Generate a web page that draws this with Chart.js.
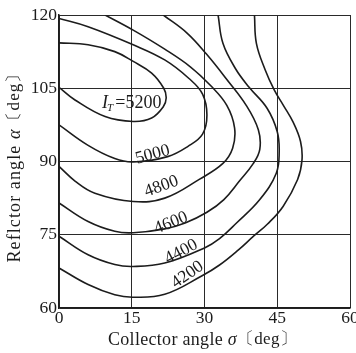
<!DOCTYPE html>
<html><head><meta charset="utf-8">
<script src="https://cdn.jsdelivr.net/npm/chart.js@4/dist/chart.umd.min.js"></script>
<style>html,body{margin:0;padding:0;background:#fff}</style>
</head><body>
<canvas id="c" width="356" height="353"></canvas>
<script>
// ---- data ----
const xTicks = [0, 15, 30, 45, 60];
const yTicks = [60, 75, 90, 105, 120];
const levels = [5200, 5000, 4800, 4600, 4400, 4200];

const sigma5200 = [0, 6.0, 11.5, 15.3, 19.1, 21.6, 22.1, 21.5, 19.1, 15.3, 9.5, 3.3, 0];
const alpha5200 = [114.3, 113.9, 112.5, 110.5, 108.1, 105.0, 103.0, 101.2, 98.9, 98.2, 99.2, 102.6, 105.2];

const sigma5000 = [0, 6.0, 15.3, 21.8, 26.8, 29.6, 30.5, 29.6, 26.6, 22.4, 15.3, 11.5, 6.0, 0];
const alpha5000 = [119.3, 117.6, 113.9, 110.8, 107.0, 103.8, 99.5, 95.6, 93.1, 91.0, 89.9, 90.6, 93.3, 97.5];

const sigma4800 = [9.5, 15.3, 21.8, 27.2, 31.3, 34.6, 36.2, 35.8, 33.8, 29.0, 21.8, 15.3, 7.4, 3.3, 0];
const alpha4800 = [120, 116.9, 113.0, 109.3, 105.5, 101.5, 96.9, 92.7, 89.6, 86.4, 82.5, 81.8, 83.5, 86.0, 89.0];

const sigma4600 = [21.5, 26.4, 30.4, 34.6, 38.6, 41.1, 41.4, 40.0, 37.2, 34.0, 30.5, 26.0, 21.8, 15.3, 11.5, 6.0, 0];
const alpha4600 = [120, 116.3, 112.0, 106.8, 101.5, 96.5, 92.5, 89.5, 86.0, 82.2, 79.6, 77.4, 76.2, 75.4, 75.7, 77.7, 81.5];

const sigma4400 = [32.8, 33.8, 36.4, 39.2, 42.9, 45.0, 45.4, 44.8, 41.4, 36.6, 33.1, 30.0, 21.8, 15.3, 11.5, 6.0, 0];
const alpha4400 = [120, 114.2, 109.0, 105.2, 100.9, 96.1, 92.0, 87.6, 82.2, 77.4, 74.2, 72.3, 69.2, 68.5, 68.9, 70.9, 74.7];

const sigma4200 = [40.3, 40.7, 42.5, 44.4, 46.2, 48.3, 49.8, 50.1, 49.2, 46.2, 43.0, 40.0, 37.0, 33.1, 29.5, 21.8, 15.3, 11.5, 6.0, 0];
const alpha4200 = [120, 114.2, 108.8, 104.6, 101.6, 98.0, 94.1, 90.3, 86.3, 80.8, 77.2, 74.6, 71.9, 68.8, 66.6, 62.8, 62.2, 62.7, 64.8, 68.2];

// contour label placement (data coordinates) and rotation
const labelSigma = [15.0, 19.3, 21.1, 23.1, 25.2, 26.5];
const labelAlpha = [102.0, 91.4, 84.9, 77.4, 71.5, 66.8];
const labelAngle = [0, -15, -20, -22, -28, -35];

// axis titles
const xTitleParts = ['Collector angle ', 'σ', '〔deg〕'];
const yTitleParts = ['Reflctor angle ', 'α', '〔deg〕'];

// ---- build ----
const sigmas = [sigma5200, sigma5000, sigma4800, sigma4600, sigma4400, sigma4200];
const alphas = [alpha5200, alpha5000, alpha4800, alpha4600, alpha4400, alpha4200];
const INK = '#1c1c1c';
const SERIF = '"Liberation Serif", "DejaVu Serif", serif';

const datasets = levels.map((lv, i) => ({
  label: String(lv),
  data: sigmas[i].map((s, j) => ({x: s, y: alphas[i][j]})),
  showLine: true,
  borderColor: INK,
  borderWidth: 1.6,
  pointRadius: 0,
  tension: 0.4,
  fill: false
}));

function drawRuns(ctx, parts, fonts, spacing) {
  ctx.letterSpacing = spacing + 'px';
  const widths = parts.map((p, k) => { ctx.font = fonts[k]; return ctx.measureText(p).width; });
  const total = widths.reduce((a, b) => a + b, 0);
  let x = -total / 2;
  ctx.textAlign = 'left';
  ctx.textBaseline = 'middle';
  parts.forEach((p, k) => { ctx.font = fonts[k]; ctx.fillText(p, x, 0); x += widths[k]; });
  ctx.letterSpacing = '0px';
}

const labelPlugin = {
  id: 'contourLabels',
  afterDatasetsDraw(chart) {
    const ctx = chart.ctx, xs = chart.scales.x, ys = chart.scales.y, ca = chart.chartArea;
    ctx.save();
    ctx.fillStyle = INK;
    levels.forEach((lv, i) => {
      const px = xs.getPixelForValue(labelSigma[i]);
      const py = ys.getPixelForValue(labelAlpha[i]);
      ctx.save();
      ctx.translate(px, py);
      ctx.rotate(labelAngle[i] * Math.PI / 180);
      ctx.textBaseline = 'middle';
      if (i === 0) {
        const big = 'italic 18px ' + SERIF, small = 'italic 11px ' + SERIF, norm = '18px ' + SERIF;
        ctx.font = big; const wI = ctx.measureText('I').width;
        ctx.font = small; const wT = ctx.measureText('T').width;
        ctx.font = norm; const wR = ctx.measureText('=' + lv).width;
        let x0 = -(wI + wT + 1 + wR) / 2;
        ctx.textAlign = 'left';
        ctx.font = big; ctx.fillText('I', x0, 0); x0 += wI;
        ctx.font = small; ctx.fillText('T', x0 - 1, 5); x0 += wT + 1;
        ctx.font = norm; ctx.fillText('=' + lv, x0, 0);
      } else {
        ctx.font = '17.5px ' + SERIF;
        ctx.textAlign = 'center';
        ctx.fillText(String(lv), 0, 0);
      }
      ctx.restore();
    });
    // axis titles
    const fx = ['18px ' + SERIF, 'italic 18px ' + SERIF, '17px ' + SERIF];
    ctx.save();
    ctx.translate((ca.left + ca.right) / 2 - 2, ca.bottom + 32);
    drawRuns(ctx, xTitleParts, fx, 0.3);
    ctx.restore();
    ctx.save();
    ctx.translate(15, (ca.top + ca.bottom) / 2 + 2);
    ctx.rotate(-Math.PI / 2);
    drawRuns(ctx, yTitleParts, fx, 1.1);
    ctx.restore();
    ctx.restore();
  }
};

new Chart(document.getElementById('c'), {
  type: 'scatter',
  data: {datasets},
  options: {
    responsive: false,
    devicePixelRatio: 1,
    animation: false,
    layout: {padding: {top: 15, right: 6, left: 0, bottom: 0}},
    plugins: {legend: {display: false}, tooltip: {enabled: false}},
    scales: {
      x: {
        type: 'linear', min: 0, max: 60,
        afterBuildTicks: s => { s.ticks = xTicks.map(v => ({value: v})); },
        afterFit: s => { s.height = 45; s.paddingLeft = 0; s.paddingRight = 0; },
        ticks: {font: {family: SERIF, size: 17.5}, color: INK, padding: 0, maxRotation: 0},
        grid: {color: '#2a2a2a', lineWidth: 1, drawTicks: false},
        border: {color: INK, width: 1.5},
        title: {display: false}
      },
      y: {
        type: 'linear', min: 60, max: 120,
        afterBuildTicks: s => { s.ticks = yTicks.map(v => ({value: v})); },
        afterFit: s => { s.width = 59; s.paddingTop = 0; s.paddingBottom = 0; },
        ticks: {font: {family: SERIF, size: 17.5}, color: INK, padding: 2},
        grid: {color: '#2a2a2a', lineWidth: 1, drawTicks: false},
        border: {color: INK, width: 1.5},
        title: {display: false}
      }
    }
  },
  plugins: [labelPlugin]
});
</script>
</body></html>
